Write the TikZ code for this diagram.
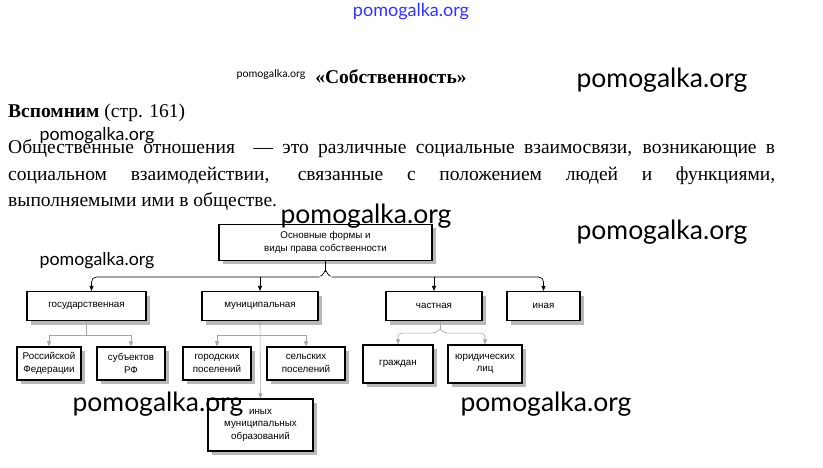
\documentclass[tikz,border=0pt]{standalone}
\usepackage{fontspec}
\setmainfont{Liberation Serif}
\setsansfont{Liberation Sans}
\newfontfamily\wmfont{Lato}
\usepackage{tikz}
\usetikzlibrary{positioning,arrows.meta,calc,shadows}

\tikzset{
  formbox/.style={draw, line width=1.1pt, fill=white, align=center, inner sep=1pt,
    font=\sffamily\fontsize{9.8}{12.5}\selectfont,
    drop shadow={shadow xshift=4pt, shadow yshift=-4pt, fill=gray!55, opacity=1}},
  branch/.style={line width=0.7pt, -{Triangle[length=5pt,width=4pt]}},
  subbranch/.style={line width=0.6pt, draw=gray!70, -{Triangle[length=5pt,width=4pt]}},
  wmbig/.style={font=\wmfont\fontsize{26.5}{26.5}\selectfont},
  wmsmall/.style={font=\wmfont\fontsize{17.8}{17.8}\selectfont},
  textline/.style={anchor=west, inner sep=0, font=\fontsize{19.5}{22}\selectfont}
}

\begin{document}
\begin{tikzpicture}[x=1pt, y=-1pt]
\useasboundingbox[fill=white] (0,0) rectangle (823,468);

% Heading
\node[font=\wmfont\fontsize{18}{18}\selectfont, text=blue!80] (topmark) at (411,12) {pomogalka.org};
\node[font=\wmfont\fontsize{10.7}{10.7}\selectfont] (headmark) at (271,75) {pomogalka.org};
\node[font=\bfseries\fontsize{19.5}{22}\selectfont] (title) at (391,77) {«Собственность»};
\node[wmbig] (mark1) at (662,80) {pomogalka.org};

% Text
\node[textline] (recall) at (8,113) {\textbf{Вспомним} (стр. 161)};
\node[wmsmall] (mark2) at (97,136) {pomogalka.org};
\node[textline] (line1) at (8,149) {\makebox[767pt][s]{Общественные отношения \ — это различные социальные взаимосвязи, возникающие в}};
\node[textline] (line2) at (8,176) {\makebox[767pt][s]{социальном взаимодействии, связанные с положением людей и функциями,}};
\node[textline] (line3) at (8,202) {выполняемыми ими в обществе.};

% Diagram
\node[formbox, minimum width=213pt, minimum height=36pt] (root) at (325.5,242.5) {Основные формы и\\виды права собственности};

\node[formbox, minimum width=119pt, minimum height=29pt] (gos) at (86.5,306) {государственная};
\node[formbox, minimum width=116pt, minimum height=29pt] (mun) at (260,306) {муниципальная};
\node[formbox, minimum width=96pt, minimum height=29pt] (chast) at (434,306) {частная};
\node[formbox, minimum width=73pt, minimum height=29pt] (inaya) at (543.5,306) {иная};

\node[formbox, minimum width=64pt, minimum height=33pt] (rf) at (49,363.5) {Российской\\Федерации};
\node[formbox, minimum width=68pt, minimum height=33pt] (subj) at (131,363.5) {субъектов\\РФ};
\node[formbox, minimum width=68pt, minimum height=33pt] (gor) at (217,363.5) {городских\\поселений};
\node[formbox, minimum width=78pt, minimum height=33pt] (sel) at (306,363.5) {сельских\\поселений};
\node[formbox, minimum width=70pt, minimum height=38pt] (grazhd) at (398,364) {граждан};
\node[formbox, minimum width=74pt, minimum height=38pt] (yur) at (485,364) {юридических\\лиц};
\node[formbox, minimum width=105pt, minimum height=52pt] (inyh) at (260.5,425) {иных\\муниципальных\\образований};

% Connectors
\coordinate (bus) at (325.5,277);
\draw[line width=0.7pt] (root.south) -- ++(0,10) to[out=90,in=0] ++(-5,5);
\draw[line width=0.7pt] (root.south) ++(0,10) to[out=90,in=180] ++(5,5);
\draw[branch, rounded corners=5pt] ($(bus)+(-6,0)$) -| ($(gos.north)+(5,0)$);
\draw[branch, rounded corners=5pt] ($(bus)+(6,0)$) -| (inaya.north);
\draw[branch] (mun.north |- bus) -- (mun.north);
\draw[branch] (chast.north |- bus) -- (chast.north);

\coordinate (gosbus) at (86.5,335);
\draw[line width=0.6pt, gray!70] (gos.south) -- (gosbus);
\draw[subbranch] (gosbus) -| (rf.north);
\draw[subbranch] (gosbus) -| (subj.north);

\coordinate (munbus) at (260,335);
\draw[subbranch] (gor.north |- munbus) -- (gor.north);
\draw[subbranch] (sel.north |- munbus) -- (sel.north);
\draw[line width=0.6pt, gray!70] (gor.north |- munbus) -- (sel.north |- munbus);
\draw[subbranch] (mun.south) -- (inyh.north);

\coordinate (chastbus) at (440,333);
\draw[line width=0.6pt, gray!70] (chast.south -| chastbus) -- ++(0,8);
\draw[subbranch, rounded corners=4pt] ($(chast.south -| chastbus)+(0,8)$) -- ++(-4,4) -| (grazhd.north);
\draw[subbranch, rounded corners=4pt] ($(chast.south -| chastbus)+(0,8)$) -- ++(4,4) -| (yur.north);

% Marks over the diagram
\node[wmbig] (mark3) at (366,216) {pomogalka.org};
\node[wmbig] (mark4) at (662,232) {pomogalka.org};
\node[wmsmall] (mark5) at (97,261) {pomogalka.org};
\node[wmbig] (mark6) at (158,404) {pomogalka.org};
\node[wmbig] (mark7) at (546,404) {pomogalka.org};
\end{tikzpicture}
\end{document}
